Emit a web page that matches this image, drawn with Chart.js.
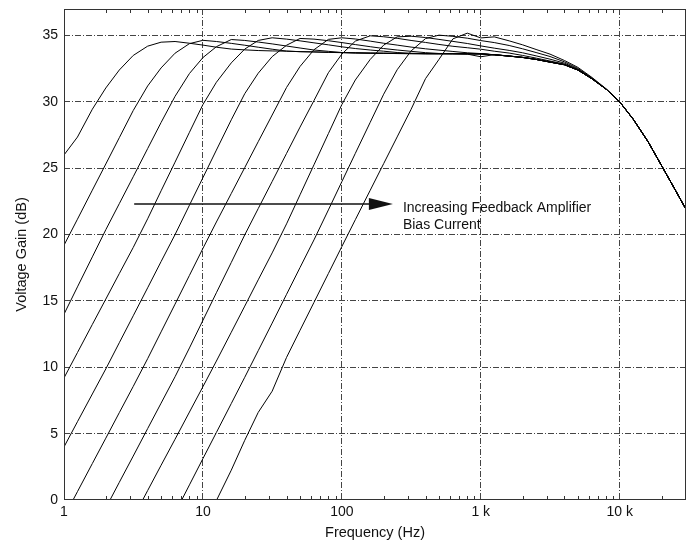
<!DOCTYPE html>
<html>
<head>
<meta charset="utf-8">
<title>Voltage Gain vs Frequency</title>
<script src="https://cdn.jsdelivr.net/npm/chart.js@4.4.1/dist/chart.umd.min.js"></script>
<style>
  html, body { margin: 0; padding: 0; background: #fff; }
  #wrap { width: 692px; height: 542px; }
</style>
</head>
<body>
<div id="wrap"><canvas id="chart" width="692" height="542"></canvas></div>
<script>
/* global Chart */

// frequency grid (Hz), third-octave steps
const freqHz = [
  1, 1.25, 1.6, 2, 2.5, 3.15, 4, 5, 6.3, 8,
  10, 12.5, 16, 20, 25, 31.5, 40, 50, 63, 80,
  100, 125, 160, 200, 250, 315, 400, 500, 630, 800,
  1000, 1250, 1600, 2000, 2500, 3150, 4000, 5000, 6300, 8000,
  10000, 12500, 16000, 20000, 25000, 30000,
];

// voltage gain (dB), one curve per bias current, lowest bias first
const gain1 = [
  26.0, 27.35, 29.45, 31.05, 32.4, 33.5, 34.2, 34.5, 34.55, 34.42,
  34.28, 34.12, 33.98, 33.92, 33.87, 33.84, 33.82, 33.79, 33.77, 33.74,
  33.72, 33.7, 33.68, 33.67, 33.66, 33.65, 33.64, 33.64, 33.63, 33.63,
  33.62, 33.56, 33.46, 33.36, 33.21, 33.01, 32.81, 32.41, 31.75, 30.95,
  30.0, 28.7, 27.0, 25.2, 23.4, 21.9,
];
const gain2 = [
  19.2, 21.16, 23.35, 25.32, 27.3, 29.35, 31.2, 32.56, 33.67, 34.39,
  34.64, 34.55, 34.41, 34.27, 34.12, 33.97, 33.83, 33.78, 33.76, 33.73,
  33.71, 33.69, 33.67, 33.66, 33.65, 33.64, 33.63, 33.63, 33.63, 33.62,
  33.61, 33.55, 33.45, 33.35, 33.2, 33.0, 32.8, 32.4, 31.75, 30.95,
  30.0, 28.7, 27.0, 25.2, 23.4, 21.9,
];
const gain3 = [
  14.0, 16.06, 18.32, 20.37, 22.33, 24.36, 26.48, 28.45, 30.42, 32.14,
  33.34, 34.16, 34.7, 34.63, 34.51, 34.37, 34.21, 34.06, 33.91, 33.81,
  33.72, 33.69, 33.67, 33.66, 33.64, 33.63, 33.62, 33.62, 33.62, 33.6,
  33.4, 33.56, 33.45, 33.35, 33.2, 33.0, 32.8, 32.4, 31.75, 30.95,
  30.0, 28.7, 27.0, 25.2, 23.4, 21.9,
];
const gain4 = [
  9.2, 11.11, 13.23, 15.14, 17.06, 19.03, 21.19, 23.3, 25.46, 27.71,
  29.8, 31.48, 32.94, 33.98, 34.63, 34.83, 34.73, 34.6, 34.45, 34.3,
  34.15, 34.02, 33.91, 33.82, 33.72, 33.66, 33.64, 33.63, 33.63, 33.62,
  33.61, 33.55, 33.45, 33.35, 33.2, 33.0, 32.8, 32.4, 31.75, 30.95,
  30.0, 28.7, 27.0, 25.2, 23.4, 21.9,
];
const gain5 = [
  4.0, 5.9, 7.99, 9.88, 11.85, 13.88, 15.99, 17.97, 20.0, 22.22,
  24.29, 26.37, 28.65, 30.62, 32.16, 33.41, 34.27, 34.78, 34.73, 34.61,
  34.47, 34.32, 34.16, 34.02, 33.91, 33.81, 33.71, 33.65, 33.64, 33.63,
  33.62, 33.55, 33.45, 33.35, 33.2, 33.0, 32.8, 32.4, 31.75, 30.95,
  30.0, 28.7, 27.0, 25.2, 23.4, 21.9,
];
const gain6 = [
  -1.28, 0.63, 2.75, 4.66, 6.58, 8.56, 10.65, 12.67, 14.76, 16.93,
  18.96, 20.95, 23.1, 25.05, 27.0, 29.01, 31.09, 32.67, 33.93, 34.71,
  34.83, 34.74, 34.58, 34.42, 34.28, 34.13, 34.0, 33.9, 33.8, 33.7,
  33.64, 33.55, 33.45, 33.35, 33.2, 33.0, 32.8, 32.4, 31.75, 30.95,
  30.0, 28.7, 27.0, 25.2, 23.4, 21.9,
];
const gain7 = [
  null, null, -2.52, -0.6, 1.33, 3.31, 5.38, 7.3, 9.29, 11.46,
  13.54, 15.62, 17.9, 19.98, 21.96, 24.0, 26.12, 28.1, 30.1, 32.2,
  33.6, 34.58, 34.98, 34.91, 34.79, 34.63, 34.48, 34.33, 34.19, 34.08,
  33.97, 33.82, 33.68, 33.5, 33.3, 33.08, 32.85, 32.42, 31.76, 30.95,
  30.0, 28.7, 27.0, 25.2, 23.4, 21.9,
];
const gain8 = [
  null, null, null, null, null, -1.34, 0.71, 2.62, 4.58, 6.63,
  8.54, 10.47, 12.64, 14.61, 16.59, 18.62, 20.81, 23.0, 25.26, 27.61,
  29.8, 31.65, 33.2, 34.28, 34.9, 34.95, 34.85, 34.71, 34.56, 34.4,
  34.22, 34.05, 33.88, 33.7, 33.47, 33.22, 32.92, 32.46, 31.78, 30.96,
  30.0, 28.7, 27.0, 25.2, 23.4, 21.9,
];
const gain9 = [
  null, null, null, null, null, null, null, null, -0.98, 1.14,
  3.12, 5.09, 7.27, 9.25, 11.25, 13.33, 15.5, 17.52, 19.6, 21.86,
  23.99, 26.12, 28.46, 30.58, 32.42, 33.84, 34.77, 35.03, 34.94, 34.8,
  34.62, 34.47, 34.25, 34.0, 33.72, 33.42, 33.02, 32.52, 31.8, 30.96,
  30.0, 28.7, 27.0, 25.2, 23.4, 21.9,
];
const gain10 = [
  null, null, null, null, null, null, null, null, null, null,
  -2.12, -0.04, 2.25, 4.5, 6.6, 8.2, 10.75, 12.79, 14.89, 17.07,
  19.1, 21.12, 23.34, 25.35, 27.36, 29.44, 31.75, 33.2, 34.75, 35.18,
  34.82, 34.9, 34.6, 34.3, 33.95, 33.6, 33.12, 32.6, 31.85, 30.98,
  30.0, 28.7, 27.0, 25.2, 23.4, 21.9,
];
const curves = [gain1, gain2, gain3, gain4, gain5, gain6, gain7, gain8, gain9, gain10];

// axes
const yTickValues = [0, 5, 10, 15, 20, 25, 30, 35];
const xDecades = [1, 10, 100, 1000, 10000];
const xDecadeLabels = ["1", "10", "100", "1 k", "10 k"];
const xMinorTicks = [
  2, 3, 4, 5, 6, 7, 8, 9,
  20, 30, 40, 50, 60, 70, 80, 90,
  200, 300, 400, 500, 600, 700, 800, 900,
  2000, 3000, 4000, 5000, 6000, 7000, 8000, 9000,
  20000,
];

// annotation, in data units
const arrowFrom = { x: 3.2, y: 22.3 };
const arrowTo = { x: 233, y: 22.3 };
const noteLines = ["Increasing Feedback Amplifier", "Bias Current"];

const FONT = "'Liberation Sans', Arial, Helvetica, sans-serif";
const INK = "#111";
const GRID = "#444";

const decorations = {
  id: "decorations",
  beforeDatasetsDraw(chart) {
    const { ctx, chartArea: a, scales } = chart;
    ctx.save();
    ctx.strokeStyle = "#333";
    ctx.lineWidth = 1;
    ctx.beginPath();
    xMinorTicks.forEach((v) => {
      const px = Math.round(scales.x.getPixelForValue(v)) + 0.5;
      ctx.moveTo(px, a.bottom);
      ctx.lineTo(px, a.bottom - 4);
      ctx.moveTo(px, a.top);
      ctx.lineTo(px, a.top + 4);
    });
    ctx.stroke();
    ctx.restore();
  },
  afterDraw(chart) {
    const { ctx, chartArea: a, scales } = chart;
    ctx.save();

    // plot frame
    ctx.strokeStyle = "#333";
    ctx.lineWidth = 1;
    ctx.strokeRect(Math.round(a.left) + 0.5, Math.round(a.top) + 0.5,
      Math.round(a.right - a.left) - 1, Math.round(a.bottom - a.top) - 1);

    // arrow
    const x0 = scales.x.getPixelForValue(arrowFrom.x);
    const x1 = scales.x.getPixelForValue(arrowTo.x);
    const y = Math.round(scales.y.getPixelForValue(arrowTo.y));
    ctx.strokeStyle = INK;
    ctx.fillStyle = INK;
    ctx.lineWidth = 1.5;
    ctx.beginPath();
    ctx.moveTo(x0, y);
    ctx.lineTo(x1 - 20, y);
    ctx.stroke();
    ctx.beginPath();
    ctx.moveTo(x1, y);
    ctx.lineTo(x1 - 24, y - 6);
    ctx.lineTo(x1 - 24, y + 6);
    ctx.closePath();
    ctx.fill();

    // note text
    ctx.font = `14px ${FONT}`;
    ctx.textAlign = "left";
    ctx.textBaseline = "alphabetic";
    ctx.fillText(noteLines[0], x1 + 10, y + 7.5);
    ctx.fillText(noteLines[1], x1 + 10, y + 25);

    // axis titles
    ctx.font = `14.5px ${FONT}`;
    ctx.textAlign = "center";
    ctx.textBaseline = "middle";
    ctx.fillText("Frequency (Hz)", (a.left + a.right) / 2, 533);
    ctx.translate(22, (a.top + a.bottom) / 2);
    ctx.rotate(-Math.PI / 2);
    ctx.fillText("Voltage Gain (dB)", 0, 0);

    ctx.restore();
  },
};

const ctx = document.getElementById("chart");
const chart = new Chart(ctx, {
  type: "line",
  data: {
    datasets: curves.map((g) => ({
      data: freqHz.map((f, i) => ({ x: f, y: g[i] })),
      borderColor: "#000",
      borderWidth: 1,
      pointRadius: 0,
      tension: 0,
      fill: false,
      spanGaps: false,
    })),
  },
  options: {
    responsive: false,
    animation: false,
    devicePixelRatio: 1,
    layout: { padding: { top: 9, right: 6, left: 0, bottom: 0 } },
    plugins: {
      legend: { display: false },
      tooltip: { enabled: false },
    },
    scales: {
      x: {
        type: "logarithmic",
        min: 1,
        max: 30000,
        afterBuildTicks: (s) => {
          s.ticks = xDecades.map((v) => ({ value: v }));
        },
        afterFit: (s) => {
          s.height = 42;
          s.paddingLeft = 0;
          s.paddingRight = 0;
        },
        ticks: {
          autoSkip: false,
          maxRotation: 0,
          padding: 4,
          color: INK,
          font: { family: FONT, size: 14 },
          callback: (v) => xDecadeLabels[xDecades.indexOf(v)],
        },
        grid: {
          drawTicks: false,
          lineWidth: 1,
          color: (c) => (c.tick && c.tick.value === 1 ? "transparent" : GRID),
        },
        border: { display: false, dash: [6, 2, 1, 2] },
      },
      y: {
        min: 0,
        max: 37,
        afterBuildTicks: (s) => {
          s.ticks = yTickValues.map((v) => ({ value: v }));
        },
        afterFit: (s) => {
          s.width = 64;
          s.paddingTop = 0;
          s.paddingBottom = 0;
        },
        ticks: {
          padding: 6,
          color: INK,
          font: { family: FONT, size: 14 },
        },
        grid: {
          drawTicks: false,
          lineWidth: 1,
          color: (c) => (c.tick && c.tick.value === 0 ? "transparent" : GRID),
        },
        border: { display: false, dash: [6, 2, 1, 2] },
      },
    },
  },
  plugins: [decorations],
});
</script>
</body>
</html>
